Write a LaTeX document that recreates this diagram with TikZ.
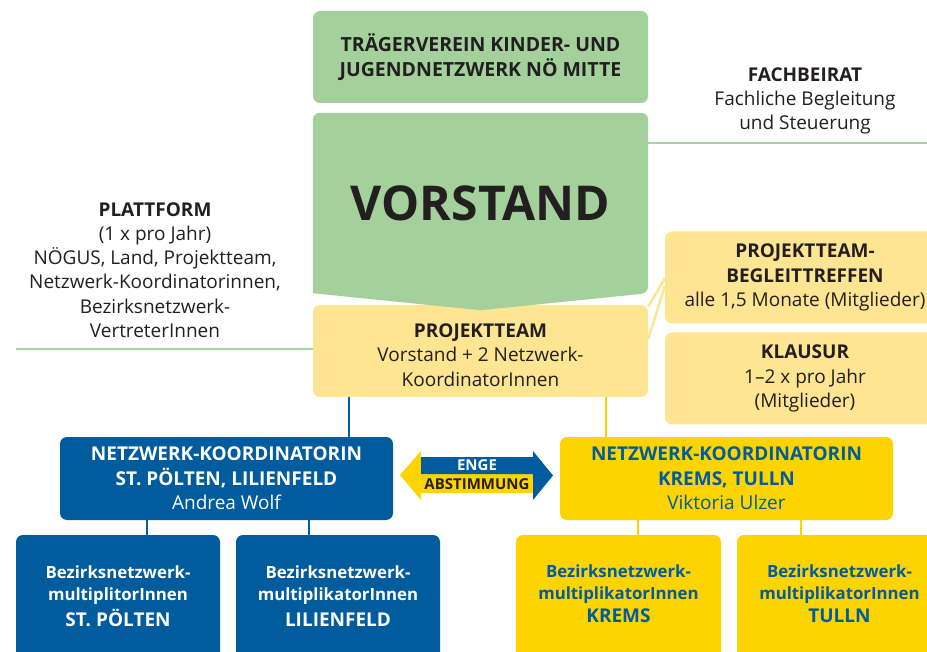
\documentclass[tikz,border=0pt]{standalone}
\usepackage{fontspec}
\setmainfont{Open Sans}
\definecolor{vgreen}{HTML}{A3D09B}
\definecolor{lgreen}{HTML}{A8D4A0}
\definecolor{lyellow}{HTML}{FEE592}
\definecolor{nblue}{HTML}{005C9D}
\definecolor{nyellow}{HTML}{FDD300}
\definecolor{ink}{HTML}{231F20}
\tikzset{
  box/.style={rectangle, rounded corners=7pt, inner sep=0pt, align=center, text=ink},
  greenbox/.style={box, fill=vgreen},
  lybox/.style={box, fill=lyellow},
  bluebox/.style={box, fill=nblue, text=white},
  yelbox/.style={box, fill=nyellow, text=nblue},
  plain/.style={align=center, text=ink, inner sep=0pt},
  body/.style={font=\fontsize{19}{24.3}\selectfont},
  kid/.style={font=\fontsize{16.8}{22}\selectfont\bfseries},
  gline/.style={draw=lgreen, line width=2.5pt},
  yline/.style={draw=lyellow, line width=2.5pt},
  bline/.style={draw=nblue, line width=2.5pt},
  ytline/.style={draw=nyellow, line width=2.5pt},
}
\begin{document}
\begin{tikzpicture}[x=1pt,y=-1pt]
\useasboundingbox (0,0) rectangle (927,652);
\clip (0,0) rectangle (927,652);
% free texts
\node[plain, body] (fach) at (805,101) {\textbf{FACHBEIRAT}\\Fachliche Begleitung\\und Steuerung};
\node[plain, body] (platt) at (155,270) {\textbf{PLATTFORM}\\(1 x pro Jahr)\\NÖGUS, Land, Projektteam,\\Netzwerk-Koordinatorinnen,\\Bezirksnetzwerk-\\VertreterInnen};
% boxes
\node[greenbox, minimum width=335pt, minimum height=92pt, font=\fontsize{19.5}{24.5}\selectfont\bfseries] (traeger) at (480.5,57) {TRÄGERVEREIN KINDER- UND\\JUGENDNETZWERK NÖ MITTE};
\node[lybox, minimum width=335pt, minimum height=92pt] (projekt) at (480.5,351) {};
\node[plain, body] (ptext) at (480.5,355) {\textbf{PROJEKTTEAM}\\Vorstand + 2 Netzwerk-\\KoordinatorInnen};
\node[rectangle, minimum width=335pt, minimum height=180pt, inner sep=0pt] (vorstand) at (480.5,203) {};
\fill[vgreen, rounded corners=7pt] (vorstand.south west) -- (vorstand.north west) -- (vorstand.north east) -- (vorstand.south east) [sharp corners] -- ([yshift=-17pt]vorstand.south) -- cycle;
\node[plain, font=\fontsize{48}{52}\selectfont\bfseries] (vtext) at (vorstand.center) {VORSTAND};
\draw[gline] (vorstand.north east |- 0,143) -- (935,143);
\draw[gline] (16,349) -- (projekt.west |- 0,349);
% right boxes
\node[lybox, minimum width=280pt, minimum height=92pt, body] (begleit) at (805,277.5) {\textbf{PROJEKTTEAM-}\\\textbf{BEGLEITTREFFEN}\\alle 1,5 Monate (Mitglieder)};
\node[lybox, minimum width=280pt, minimum height=92pt, body] (klausur) at (805,378.5) {\textbf{KLAUSUR}\\1–2 x pro Jahr\\(Mitglieder)};
\draw[yline] ([yshift=-2pt]projekt.north east) -- ([yshift=-47pt]begleit.north west);
\draw[yline] ([yshift=12pt]projekt.east) -- ([yshift=46pt]klausur.north west);
% coordinators
\node[bluebox, minimum width=333pt, minimum height=83pt, body] (nkblue) at (226.5,478.5) {\textbf{NETZWERK-KOORDINATORIN}\\\textbf{ST. PÖLTEN, LILIENFELD}\\Andrea Wolf};
\node[yelbox, minimum width=333pt, minimum height=83pt, body] (nkyel) at (726.5,478.5) {\textbf{NETZWERK-KOORDINATORIN}\\\textbf{KREMS, TULLN}\\Viktoria Ulzer};
\draw[bline] ([xshift=36pt]projekt.south west) -- ([xshift=36pt]projekt.south west |- nkblue.north);
\draw[ytline] ([xshift=293pt]projekt.south west) -- ([xshift=293pt]projekt.south west |- nkyel.north);
% arrow
\fill[nyellow] (400,475) -- (421,451) -- (421,457) -- (533,457) -- (533,493) -- (421,493) -- (421,500) -- cycle;
\fill[nblue] (421,457) -- (533,457) -- (533,451) -- (553,475.5) -- (533,500) -- (533,474) -- (421,474) -- cycle;
\node[plain, text=white, font=\fontsize{15}{17}\selectfont\bfseries] (enge) at (477,465.5) {ENGE};
\node[plain, font=\fontsize{15}{17}\selectfont\bfseries] (abst) at (477,484) {ABSTIMMUNG};
% children
\node[bluebox, minimum width=204pt, minimum height=125pt] (k1) at (118,597.5) {};
\node[bluebox, minimum width=204pt, minimum height=125pt] (k2) at (338,597.5) {};
\node[yelbox, minimum width=205pt, minimum height=125pt] (k3) at (618.5,597.5) {};
\node[yelbox, minimum width=205pt, minimum height=125pt] (k4) at (839.5,597.5) {};
\node[plain, text=white, kid] (t1) at (118,596) {Bezirksnetzwerk-\\multiplitorInnen\\[4pt]{\fontsize{19}{22}\selectfont ST. PÖLTEN}};
\node[plain, text=white, kid] (t2) at (338,596) {Bezirksnetzwerk-\\multiplikatorInnen\\[4pt]{\fontsize{19}{22}\selectfont LILIENFELD}};
\node[plain, text=nblue, kid] (t3) at (618.5,594) {Bezirksnetzwerk-\\multiplikatorInnen\\[1pt]{\fontsize{19}{22}\selectfont KREMS}};
\node[plain, text=nblue, kid] (t4) at (839.5,594) {Bezirksnetzwerk-\\multiplikatorInnen\\[1pt]{\fontsize{19}{22}\selectfont TULLN}};
\draw[bline] (k1.north -| 147,0) -- (nkblue.south -| 147,0);
\draw[bline] (k2.north -| 309,0) -- (nkblue.south -| 309,0);
\draw[ytline] (k3.north -| 638,0) -- (nkyel.south -| 638,0);
\draw[ytline] (k4.north -| 801,0) -- (nkyel.south -| 801,0);
\end{tikzpicture}
\end{document}
